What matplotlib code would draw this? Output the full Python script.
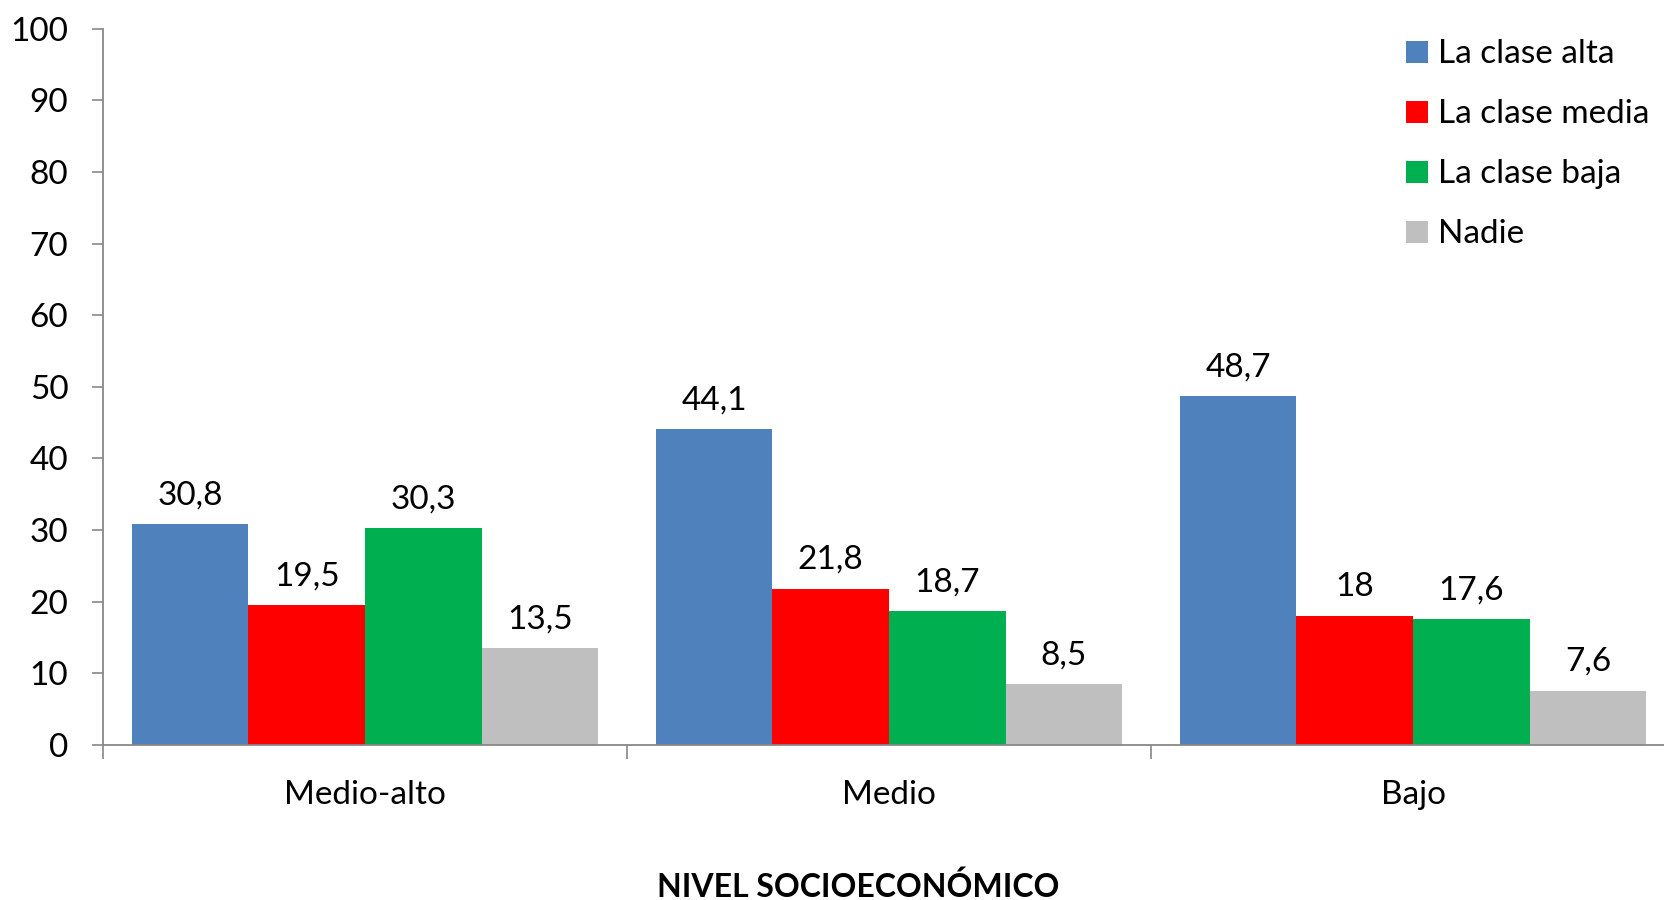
import matplotlib
matplotlib.use("Agg")
import matplotlib.pyplot as plt
import numpy as np

categories = ["Medio-alto", "Medio", "Bajo"]
series_names = ["La clase alta", "La clase media", "La clase baja", "Nadie"]
alta = [30.8, 44.1, 48.7]
media = [19.5, 21.8, 18.0]
baja = [30.3, 18.7, 17.6]
nadie = [13.5, 8.5, 7.6]
series = [alta, media, baja, nadie]
colors = ["#4F81BD", "#FF0000", "#00B050", "#BFBFBF"]
yticks = list(range(0, 101, 10))

plt.rcParams['font.family'] = ['Lato', 'DejaVu Sans']
FS = 24

W, H = 1665, 900
fig = plt.figure(figsize=(W / 100, H / 100), dpi=100)
left, right = 103 / W, 1675 / W
bottom, top = 1 - 745 / H, 1 - 28.7 / H
ax = fig.add_axes([left, bottom, right - left, top - bottom])

n = len(series)
bw = 0.2225
x = np.arange(len(categories))
for i, (vals, c, name) in enumerate(zip(series, colors, series_names)):
    pos = x + (i - (n - 1) / 2) * bw
    bars = ax.bar(pos, vals, width=bw, color=c, label=name, edgecolor='none')
    for p, v in zip(pos, vals):
        txt = (f"{v:.1f}".replace('.', ',') if v != int(v) else f"{int(v)}")
        ax.annotate(txt, (p, v), xytext=(0, 10), textcoords='offset points',
                    ha='center', va='bottom', fontsize=FS, color='black')

ax.set_xlim(-0.5, len(categories) - 0.5)
ax.set_ylim(0, 100)
ax.set_yticks(yticks)
ax.set_yticklabels([str(t) for t in yticks], fontsize=FS)
ax.set_xticks(np.arange(len(categories) + 1) - 0.5)
ax.set_xticklabels([])
ax.set_xticks(x, minor=True)
ax.set_xticklabels(categories, minor=True, fontsize=FS)
ax.tick_params(axis='x', which='minor', length=0, pad=25)
ax.tick_params(axis='x', which='major', length=10, width=1.2, color='#888888', direction='out')
ax.tick_params(axis='y', length=8, width=1.2, color='#888888', direction='out', pad=17)
for s in ['top', 'right']:
    ax.spines[s].set_visible(False)
for s in ['left', 'bottom']:
    ax.spines[s].set_color('#888888')
    ax.spines[s].set_linewidth(1.3)

leg = ax.legend(loc='upper left', bbox_to_anchor=(1393 / W, 1 - 26 / H),
                bbox_transform=fig.transFigure, frameon=False, fontsize=FS,
                handlelength=0.65, handleheight=0.65, handletextpad=0.3,
                labelspacing=0.9, borderaxespad=0)

fig.text(858 / W, 1 - 887 / H, "NIVEL SOCIOECONÓMICO", ha='center', va='center',
         fontsize=23, fontweight='bold')

fig.savefig("out.png", dpi=100)
